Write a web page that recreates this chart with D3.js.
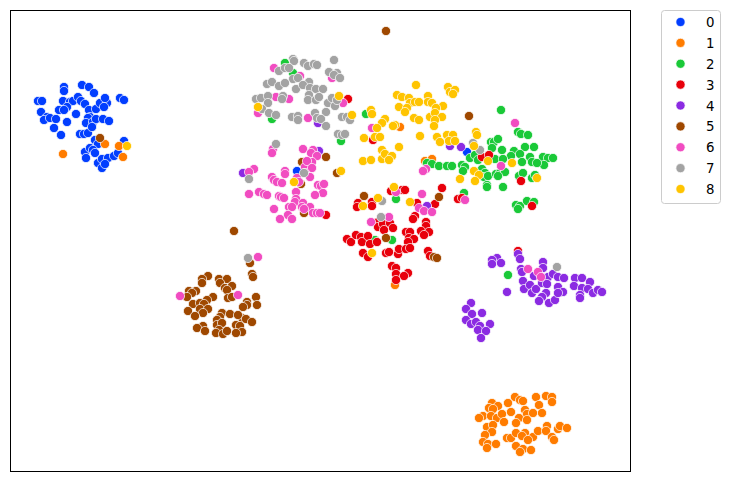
<!DOCTYPE html>
<html>
<head>
<meta charset="utf-8">
<script src="https://cdnjs.cloudflare.com/ajax/libs/d3/7.8.5/d3.min.js"></script>
<style>
  html, body { margin: 0; padding: 0; background: #fff; }
  svg { display: block; }
</style>
</head>
<body>
<div id="chart"></div>
<script>
// embedding values, one list per label
var labels = ["0", "1", "2", "3", "4", "5", "6", "7", "8"]
var colors = ["#023eff", "#ff7c00", "#1ac938", "#e8000b", "#8b2be2", "#9f4800", "#f14cc1", "#a3a3a3", "#ffc400"]

var points0 = [[82,85],[89,87],[94,93],[64,87],[64,91],[38,101],[42,101],[63,101],[70,102],[73,101],[78,97],[81,101],[85,104],[67,107],[59,110],[64,110],[41,112],[47,117],[44,120],[50,118],[56,119],[67,122],[54,128],[61,135],[76,114],[89,110],[96,109],[90,117],[88,118],[86,123],[93,122],[96,119],[103,119],[109,121],[100,103],[107,103],[105,98],[120,98],[124,100],[104,107],[80,134],[84,134],[88,133],[95,140],[98,144],[124,141],[85,152],[90,148],[93,150],[95,153],[86,158],[98,163],[102,159],[108,158],[114,156],[118,153],[102,168],[105,164],[92,127],[467,152],[297,171]]
var points1 = [[63,154],[105,144],[119,146],[123,157],[400,127],[425,161],[432,159],[395,285],[515,397],[520,400],[523,401],[508,403],[536,397],[546,396],[552,397],[552,402],[539,405],[542,413],[492,403],[489,408],[498,406],[493,409],[511,412],[525,410],[527,414],[533,413],[519,418],[527,420],[483,416],[479,418],[491,416],[497,418],[502,414],[504,422],[516,423],[487,427],[493,425],[492,432],[485,435],[483,442],[488,444],[496,444],[487,448],[507,438],[511,438],[516,433],[525,433],[522,436],[533,437],[538,431],[528,440],[516,446],[523,449],[520,452],[531,450],[547,426],[546,431],[552,437],[554,440],[558,429],[560,426],[567,428]]
var points2 = [[285,63],[293,73],[272,119],[341,141],[366,114],[501,110],[518,132],[521,134],[528,135],[491,142],[494,142],[498,139],[492,148],[502,150],[514,151],[525,147],[534,147],[520,154],[511,156],[470,158],[475,155],[478,160],[495,159],[503,159],[522,162],[530,157],[532,162],[543,157],[548,158],[553,158],[544,165],[537,163],[427,163],[432,164],[439,166],[447,166],[452,166],[462,165],[465,167],[463,171],[482,169],[485,173],[484,177],[488,176],[496,174],[500,173],[505,172],[498,176],[519,176],[523,173],[532,178],[535,175],[487,185],[487,187],[503,187],[464,193],[396,199],[516,205],[520,206],[518,209],[527,201],[534,202],[375,240],[392,240],[508,275]]
var points3 = [[348,99],[373,140],[482,157],[489,155],[521,181],[532,206],[442,188],[458,199],[462,198],[326,215],[358,203],[357,207],[372,202],[372,206],[391,191],[402,190],[405,190],[417,203],[435,204],[415,216],[413,219],[378,222],[378,227],[383,224],[390,223],[384,230],[393,228],[406,232],[410,232],[426,222],[426,226],[421,231],[429,232],[424,235],[409,238],[414,239],[408,242],[347,239],[351,242],[356,235],[361,237],[362,242],[368,236],[370,244],[363,253],[368,257],[377,242],[386,253],[389,252],[398,254],[399,249],[406,249],[410,248],[428,251],[430,256],[392,266],[396,268],[396,274],[408,273],[404,276],[396,280],[518,251]]
var points4 = [[318,123],[450,146],[461,147],[427,206],[243,173],[319,151],[497,258],[492,260],[492,264],[501,263],[518,254],[520,259],[521,269],[522,272],[543,262],[543,268],[548,277],[553,274],[534,276],[558,277],[564,278],[523,281],[524,289],[530,285],[532,293],[536,289],[542,283],[547,284],[546,293],[542,297],[539,301],[549,303],[555,300],[558,287],[563,292],[558,293],[507,292],[575,278],[582,278],[590,282],[574,286],[582,288],[588,289],[580,295],[580,298],[593,293],[598,290],[602,292],[471,303],[466,309],[472,314],[482,313],[466,320],[471,324],[476,322],[480,326],[490,324],[478,330],[486,331],[481,338]]
var points5 = [[100,138],[386,31],[469,116],[439,197],[364,196],[326,157],[302,162],[337,173],[301,184],[304,213],[234,231],[386,238],[434,257],[437,258],[250,263],[252,274],[253,277],[208,276],[202,279],[202,283],[219,279],[227,279],[220,283],[225,288],[232,286],[227,290],[189,291],[196,291],[192,293],[213,297],[207,300],[228,298],[232,297],[247,302],[256,297],[257,305],[247,305],[243,307],[187,297],[193,304],[200,303],[204,304],[200,309],[208,309],[203,313],[188,311],[195,316],[222,313],[220,317],[217,320],[230,314],[242,318],[238,315],[246,319],[252,322],[236,325],[240,326],[242,332],[236,333],[203,326],[197,328],[205,331],[217,325],[222,323],[219,330],[216,333],[223,334],[227,331]]
var points6 = [[274,68],[300,76],[332,78],[276,97],[289,99],[343,103],[258,113],[308,118],[372,128],[515,123],[501,166],[426,169],[423,171],[465,200],[303,149],[313,150],[311,153],[317,156],[312,162],[305,167],[307,161],[312,168],[305,173],[310,177],[273,149],[272,153],[254,169],[249,172],[285,171],[285,174],[272,177],[274,180],[277,182],[282,183],[297,178],[299,182],[249,194],[259,192],[264,194],[267,195],[279,196],[281,197],[284,198],[296,192],[296,199],[295,202],[318,185],[321,186],[324,184],[323,193],[315,195],[274,209],[289,207],[292,207],[303,203],[302,207],[310,207],[304,209],[313,213],[317,213],[320,213],[288,215],[292,219],[280,219],[396,192],[422,194],[389,217],[371,222],[419,208],[424,211],[432,212],[528,269],[538,272],[541,277],[258,257],[180,296],[238,295]]
var points7 = [[293,59],[294,61],[304,63],[308,66],[314,64],[317,65],[334,60],[279,71],[285,68],[289,68],[329,72],[337,73],[334,75],[340,78],[293,79],[298,78],[267,84],[272,82],[279,86],[285,83],[309,82],[296,89],[303,85],[310,88],[316,89],[323,89],[309,95],[308,100],[316,100],[319,97],[256,99],[261,98],[268,96],[268,103],[283,96],[282,99],[328,103],[332,98],[335,106],[337,100],[262,109],[269,113],[276,115],[292,117],[298,116],[298,120],[315,113],[326,112],[317,118],[321,119],[326,126],[342,117],[347,117],[350,120],[338,134],[342,135],[345,134],[276,144],[473,143],[480,150],[382,201],[381,217],[249,179],[304,173],[557,267],[248,258]]
var points8 = [[127,146],[339,96],[258,107],[352,115],[416,85],[448,87],[450,92],[455,90],[453,94],[397,95],[402,97],[409,98],[410,103],[415,102],[419,102],[428,96],[428,102],[432,103],[443,106],[436,108],[399,107],[407,108],[405,112],[430,117],[435,113],[442,117],[435,120],[434,126],[414,118],[419,120],[420,136],[385,119],[382,123],[377,128],[395,125],[393,126],[371,110],[372,114],[364,138],[375,137],[380,137],[399,147],[382,150],[363,161],[371,160],[382,159],[385,154],[392,156],[389,160],[437,137],[440,142],[447,135],[453,135],[449,141],[455,141],[476,132],[477,135],[474,146],[488,161],[512,163],[474,171],[479,175],[475,181],[460,179],[537,178],[394,187],[378,198],[363,206],[410,202],[372,253],[341,171],[294,182]]

var allPoints = [points0, points1, points2, points3, points4, points5, points6, points7, points8]

// limits of the axes in the units the values were read in
var xLimits = [11, 631]
var yLimits = [11, 472]

var width = 729,
  height = 482

var svg = d3.select("#chart").append("svg")
  .attr("width", width)
  .attr("height", height)

var x = d3.scaleLinear().domain(xLimits).range([11, 631])
var y = d3.scaleLinear().domain(yLimits).range([11, 472])

// labels are drawn in order, so the later ones sit on top
var groups = svg.selectAll("g.label")
  .data(allPoints)
  .enter()
  .append("g")
  .attr("class", "label")
  .attr("fill", function(d, i){ return colors[i] })

groups.selectAll("circle")
  .data(function(d){ return d })
  .enter()
  .append("circle")
  .attr("cx", function(d){ return x(d[0]) })
  .attr("cy", function(d){ return y(d[1]) })
  .attr("r", 4.6)
  .attr("stroke", "#fff")
  .attr("stroke-width", 0.7)

// frame
svg.append("rect")
  .attr("x", 10.5)
  .attr("y", 10.5)
  .attr("width", 620)
  .attr("height", 461)
  .attr("fill", "none")
  .attr("stroke", "#000")
  .attr("stroke-width", 1)

// legend
var legend = svg.append("g").attr("class", "legend")

legend.append("rect")
  .attr("x", 661.5)
  .attr("y", 10.5)
  .attr("width", 59)
  .attr("height", 193)
  .attr("rx", 3)
  .attr("fill", "#fff")
  .attr("stroke", "#ccc")
  .attr("stroke-width", 1)

var legendY = d3.scalePoint().domain(labels).range([22, 189])

legend.selectAll("circle")
  .data(labels)
  .enter()
  .append("circle")
  .attr("cx", 680.5)
  .attr("cy", function(d){ return legendY(d) })
  .attr("r", 4.6)
  .attr("fill", function(d, i){ return colors[i] })
  .attr("stroke", "#fff")
  .attr("stroke-width", 0.7)

legend.selectAll("text")
  .data(labels)
  .enter()
  .append("text")
  .attr("x", 706)
  .attr("y", function(d){ return legendY(d) + 5 })
  .attr("font-family", "DejaVu Sans")
  .attr("font-size", "13.33px")
  .attr("fill", "#000")
  .text(function(d){ return d })
</script>
</body>
</html>
